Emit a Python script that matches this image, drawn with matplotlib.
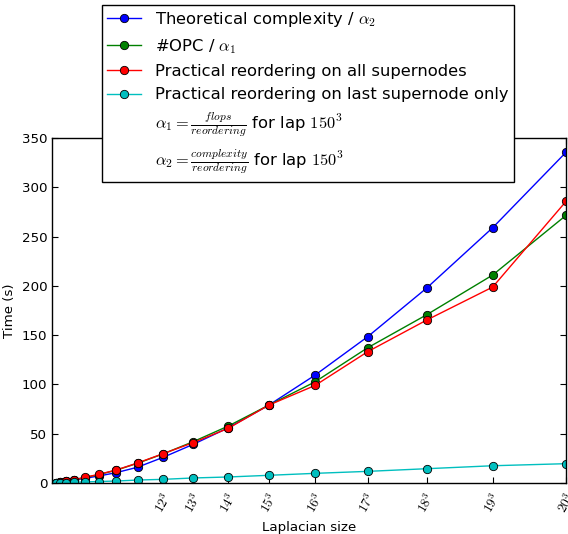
import matplotlib
matplotlib.use("Agg")
import matplotlib.pyplot as plt
from matplotlib.lines import Line2D

plt.rcParams['mathtext.fontset'] = 'cm'
plt.rcParams['font.family'] = ['DejaVu Sans']

n = list(range(4, 21))
sizes = [k ** 3 for k in n]
theoretical = [0.4, 0.9, 1.7, 3.0, 4.8, 7.1, 10.5, 16.0, 26.0, 39.2, 56.0, 79.0, 109.5, 148.4, 197.8, 259.0, 335.5]
opc = [0.5, 1.0, 1.9, 3.2, 5.5, 8.5, 13.0, 20.0, 29.5, 41.9, 57.8, 79.0, 102.7, 137.2, 170.7, 211.0, 271.5]
practical_all = [0.5, 1.0, 2.0, 3.4, 5.8, 8.8, 13.2, 20.3, 29.7, 40.9, 55.5, 79.0, 99.0, 133.2, 165.3, 198.8, 285.7]
practical_last = [0.2, 0.3, 0.5, 0.8, 1.1, 1.5, 2.0, 3.0, 3.7, 5.1, 6.1, 7.8, 9.8, 11.8, 14.5, 17.5, 19.6]

tick_n = list(range(12, 21))
tick_pos = [k ** 3 for k in tick_n]
tick_labels = [r'$%d^3$' % k for k in tick_n]

fig = plt.figure(figsize=(5.68, 5.34), dpi=100)
ax = fig.add_axes([52 / 568, 51 / 534, (566 - 52) / 568, (483 - 138) / 534])

mk = dict(marker='o', markersize=6.0, markeredgecolor='black', markeredgewidth=0.6, linewidth=1.0)
h1, = ax.plot(sizes, theoretical, color=(0, 0, 1), **mk)
h2, = ax.plot(sizes, opc, color=(0, 0.5, 0), **mk)
h3, = ax.plot(sizes, practical_all, color=(1, 0, 0), **mk)
h4, = ax.plot(sizes, practical_last, color=(0, 0.75, 0.75), **mk)

e1 = Line2D([], [], linestyle='none', marker=None)
e2 = Line2D([], [], linestyle='none', marker=None)

fs = 9.6
ax.set_xlim(0, 8000)
ax.set_ylim(0, 350)
ax.set_yticks(range(0, 351, 50))
ax.set_xticks(tick_pos)
ax.set_xticklabels(tick_labels, rotation=60, ha='center', fontsize=fs)
ax.tick_params(axis='both', direction='in', top=True, right=True, length=4, labelsize=fs)
ax.tick_params(axis='x', pad=5)
for s in ax.spines.values():
    s.set_linewidth(1.0)
    s.set_color('black')

ax.set_xlabel('Laplacian size', fontsize=fs)
ax.set_ylabel('Time (s)', fontsize=fs)

leg = fig.legend([h1, h2, h3, h4, e1, e2],
                 [r'Theoretical complexity / $\alpha_2$', r'#OPC / $\alpha_1$',
                  'Practical reordering on all supernodes',
                  'Practical reordering on last supernode only',
                  r'$\alpha_1 = \frac{flops}{reordering}$ for lap $150^3$',
                  r'$\alpha_2 = \frac{complexity}{reordering}$ for lap $150^3$'],
                 loc='upper left', bbox_to_anchor=(102 / 568, 1 - 5 / 534),
                 bbox_transform=fig.transFigure, borderaxespad=0, numpoints=1,
                 fontsize=11.8, fancybox=False, framealpha=1, edgecolor='black',
                 handlelength=2.1, handletextpad=0.85, labelspacing=0.5, borderpad=0.3)
leg.get_frame().set_linewidth(1.0)

fig.savefig('out.png', dpi=100)
